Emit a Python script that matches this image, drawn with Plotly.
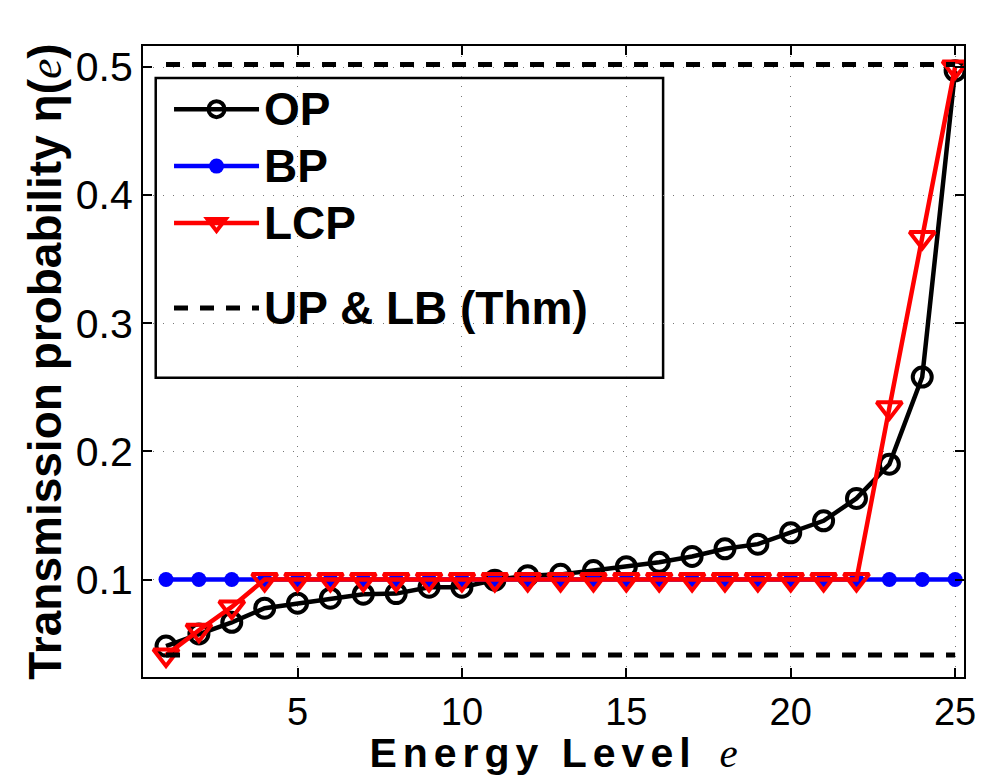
import plotly.graph_objects as go

energy = list(range(1, 26))
op = [0.048, 0.0575, 0.0666, 0.0776, 0.0815, 0.0854, 0.0885, 0.089, 0.094, 0.094,
      0.0995, 0.103, 0.104, 0.107, 0.110, 0.1135, 0.118, 0.124, 0.1276, 0.1364,
      0.1458, 0.1633, 0.190, 0.258, 0.497]
bp = [0.1] * 25
lcp = [0.041, 0.0604, 0.0786] + [0.1] * 19 + [0.234, 0.367, 0.5]
upper_bound = 0.502
lower_bound = 0.041

FONT = "Liberation Sans, Arial, sans-serif"
LEG = "<span style='font-size:46px'><b>{}</b></span>"

fig = go.Figure()
fig.add_trace(go.Scatter(
    x=energy, y=op, name=LEG.format("OP"), mode="lines+markers", legendgroup="a",
    line=dict(color="black", width=4.5),
    marker=dict(symbol="circle-open", size=19, color="black", line=dict(width=4, color="black"))))
fig.add_trace(go.Scatter(
    x=energy, y=bp, name=LEG.format("BP"), mode="lines+markers", legendgroup="a",
    line=dict(color="#0000ff", width=4.5),
    marker=dict(symbol="circle", size=15, color="#0000ff")))
fig.add_trace(go.Scatter(
    x=energy, y=lcp, name=LEG.format("LCP"), mode="lines+markers", legendgroup="a",
    line=dict(color="#ff0000", width=4.5),
    marker=dict(symbol="triangle-down-open", size=22, color="#ff0000", line=dict(width=4, color="#ff0000"))))
fig.add_trace(go.Scatter(
    x=[energy[0], energy[-1]], y=[upper_bound, upper_bound], name=LEG.format("UP &amp; LB (Thm)"),
    mode="lines", legendgroup="b",
    line=dict(color="black", width=5, dash="14px,12px")))
fig.add_trace(go.Scatter(
    x=[energy[0], energy[-1]], y=[lower_bound, lower_bound], name="LB", showlegend=False,
    mode="lines", legendgroup="b",
    line=dict(color="black", width=5, dash="14px,12px")))

axis_common = dict(
    showline=True, linecolor="black", linewidth=2, mirror="ticks",
    ticks="inside", ticklen=9, tickwidth=1.5, tickcolor="black",
    showgrid=True, gridcolor="#777", gridwidth=1.2, griddash="1px,9px",
    zeroline=False, automargin=False,
)

fig.update_layout(
    width=986, height=776,
    margin=dict(l=143, r=22, t=46, b=99),
    paper_bgcolor="white", plot_bgcolor="white",
    xaxis=dict(range=[0.3, 25.27], tickvals=[5, 10, 15, 20, 25],
               tickfont=dict(family=FONT, size=38, color="black"),
               title=dict(text="<span style='letter-spacing:6px'><b>Energy Level</b></span>  <i style='font-family:Liberation Serif'>e</i>",
                          font=dict(family=FONT, size=41, color="black"), standoff=7),
               **axis_common),
    yaxis=dict(range=[0.0239, 0.5164], tickvals=[0.1, 0.2, 0.3, 0.4, 0.5],
               ticktext=["0.1", "0.2", "0.3", "0.4", "0.5"],
               tickfont=dict(family=FONT, size=41, color="black"),
               title=dict(text="<b>Transmission probability η(</b><i style='font-family:Liberation Serif'>e</i><b>)</b>",
                          font=dict(family=FONT, size=46, color="black"), standoff=0),
               **axis_common),
    legend=dict(x=0.0317, y=0.953, xanchor="left", yanchor="top",
                xref="paper", yref="paper", itemwidth=85,
                bgcolor="rgba(0,0,0,0)", borderwidth=0,
                font=dict(family=FONT, size=41.5, color="black"),
                tracegroupgap=28, traceorder="grouped"),
    shapes=[dict(type="rect", xref="paper", yref="paper",
                 x0=0.0155, x1=0.6335, y0=0.4744, y1=0.9493,
                 line=dict(color="black", width=2.5), fillcolor="white", layer="below")],
    showlegend=True,
)

fig.write_html("out.html")
